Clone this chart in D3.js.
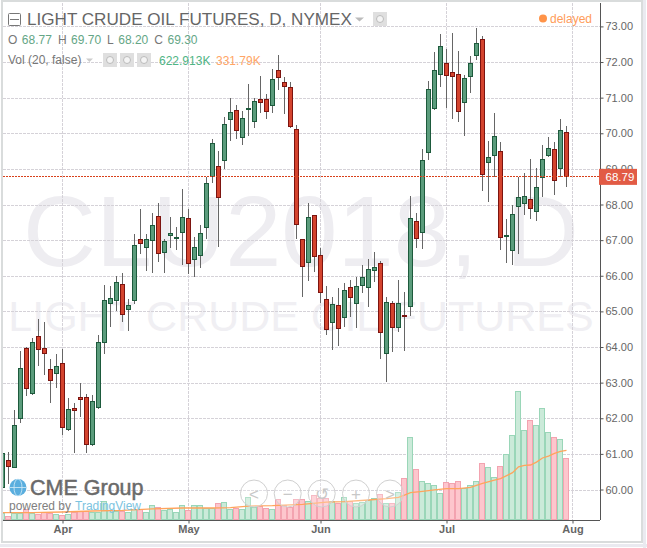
<!DOCTYPE html>
<html><head><meta charset="utf-8">
<script src="https://cdn.jsdelivr.net/npm/d3@7/dist/d3.min.js"></script>
<style>
html,body{margin:0;padding:0;background:#fff;overflow:hidden}
svg{display:block;font-family:"Liberation Sans",Arial,sans-serif}
</style></head><body>
<svg id="c" width="647" height="548"></svg>
<script>
const highs=[61.10,61.06,62.23,63.89,64.00,64.24,64.78,64.69,63.66,63.80,63.94,62.56,62.42,62.98,62.67,62.65,64.33,65.73,65.70,65.99,66.07,65.34,67.16,67.87,67.16,67.75,68.03,67.02,67.64,67.36,68.43,67.87,67.09,67.42,68.78,69.84,69.50,70.45,70.99,70.79,70.62,71.38,70.99,71.61,71.10,71.81,72.20,71.58,71.44,70.22,67.03,68.03,67.70,66.77,65.70,65.40,65.65,65.79,65.87,65.96,66.29,66.46,66.67,66.41,65.40,65.28,65.87,65.54,68.24,67.75,69.56,71.46,72.28,72.79,72.36,72.82,72.31,71.64,72.17,72.95,72.73,69.78,70.56,69.75,67.59,67.98,68.76,68.88,69.27,69.02,69.66,69.89,69.75,70.39,70.20];
const lows=[60.00,60.15,60.60,61.88,62.63,62.66,63.48,63.21,62.42,62.86,61.53,61.65,61.02,62.03,61.03,61.23,62.27,63.80,64.55,65.02,64.69,64.44,65.20,66.60,66.14,66.07,66.40,66.07,66.77,66.72,66.29,66.04,65.97,66.21,67.02,68.61,66.82,68.99,69.79,69.85,69.68,69.93,70.14,70.58,70.41,70.56,71.22,70.53,70.15,67.02,65.40,65.86,66.10,65.23,64.34,63.92,64.04,64.57,64.85,64.54,65.51,65.13,65.82,63.66,63.01,63.87,64.41,63.90,64.87,66.79,66.75,69.26,70.66,71.31,70.72,70.41,70.33,69.93,71.12,72.06,68.39,68.08,68.76,66.72,66.35,66.29,66.60,67.70,67.60,67.53,68.20,69.34,68.26,68.76,68.48];
const opens=[60.04,60.83,60.61,61.97,63.96,62.67,64.30,63.96,63.37,63.23,63.54,61.66,62.28,62.59,62.59,61.24,62.28,64.10,65.20,65.28,65.76,65.03,65.28,67.02,66.77,66.97,67.67,66.63,67.11,67.04,67.19,67.61,66.43,66.55,67.33,68.78,69.07,69.21,70.36,70.65,69.86,70.65,70.31,70.95,70.95,70.76,71.77,71.43,71.29,70.11,67.02,66.35,67.70,66.57,65.34,64.67,65.17,64.81,65.68,65.20,65.70,65.65,66.13,66.35,63.80,65.23,64.53,64.89,65.12,67.53,67.19,69.44,70.67,71.63,71.97,71.71,71.66,70.84,71.57,72.16,72.64,69.17,69.35,69.49,67.08,66.69,67.92,68.01,68.15,67.78,68.74,69.35,69.55,68.99,70.03];
const closes=[61.02,60.64,61.81,63.40,62.81,64.13,63.91,63.80,63.04,63.46,61.72,62.25,62.20,62.52,61.24,62.48,64.13,65.31,65.37,65.82,64.89,65.17,66.86,66.88,67.02,67.42,66.60,66.97,67.19,67.08,67.64,66.32,66.80,67.19,68.60,69.72,68.18,70.25,70.59,70.06,70.42,70.70,70.90,70.84,70.59,71.52,71.54,71.29,70.17,67.42,66.24,67.64,66.52,65.51,64.47,65.20,64.50,65.59,65.37,65.70,65.96,66.18,66.24,64.39,65.26,64.53,65.23,64.83,67.61,67.02,69.24,71.24,71.77,72.44,71.60,71.57,70.59,71.54,71.97,72.53,68.82,69.33,69.92,67.05,67.14,67.73,68.20,68.23,67.87,68.48,69.27,69.58,68.65,70.10,68.76];
const volumes=[58,31,58,65,99,65,51,75,65,48,41,48,75,86,86,75,75,188,92,82,86,68,99,99,68,140,127,92,99,68,140,92,140,140,113,113,161,174,99,116,99,229,120,133,109,99,202,144,127,209,202,181,246,212,212,181,161,229,185,161,178,195,212,256,161,161,274,417,838,510,386,366,345,263,376,366,386,315,352,386,571,530,428,540,667,858,1310,910,1012,961,1135,889,838,817,622];
const maDays=[0,5,10,15,20,25,30,35,38,41,45,50,54,57,61,64,66,67,68,70,72,74,76,78,80,82,83,85,86,87,88,89,90,91,92,93,94];
const maValues=[65,65,72,82,89,103,113,113,116,133,137,150,174,178,195,209,222,246,270,284,298,311,311,325,366,400,414,475,536,550,554,584,626,646,674,694,704];
const priceTicks=[60,61,62,63,64,65,66,67,68,69,70,71,72,73];
const monthDays=[10,31,53,74,95];
const monthLabels=["Apr","May","Jun","Jul","Aug"];
const lastPrice=68.79;
const ohlcLabels=[["O","68.77"],["H","69.70"],["L","68.20"],["C","69.30"]];

const svg=d3.select("#c");
const UP="#5b9c7c",UPB="#1d5a3c",DN="#d4442e",DNB="#7c1410";
const x=d3.scaleLinear().domain([0,95]).range([2.5,572.5]);
const y=d3.scaleLinear().domain([60,73]).range([489.5,26.4]);
const v=d3.scaleLinear().domain([0,1310]).range([519,391.3]);
const snap=p=>Math.round(p)+0.5;

// frame
svg.append("rect").attr("x",2).attr("y",1).attr("width",640).attr("height",541).attr("fill","none").attr("stroke","#d9dcdc").attr("stroke-width",2);
svg.append("rect").attr("x",643).attr("y",0).attr("width",3).attr("height",548).attr("fill","#eaeaf0");
svg.append("rect").attr("x",0).attr("y",544).attr("width",647).attr("height",3).attr("fill","#eaeaf0");

svg.append("clipPath").attr("id","plot").append("rect").attr("x",3).attr("y",3).attr("width",597).attr("height",517);

// watermark
svg.append("text").attr("x",301).attr("y",266).attr("text-anchor","middle").attr("font-size",101).attr("fill","#eeedf1").text("CLU2018, D");
svg.append("text").attr("x",301).attr("y",330.5).attr("text-anchor","middle").attr("font-size",43).attr("fill","#f0eff3").text("LIGHT CRUDE OIL FUTURES");

// grid
const g=svg.append("g").attr("fill","none").attr("stroke","#d5d2d8").attr("stroke-dasharray","3,1");
g.selectAll(".h").data(priceTicks).join("line").attr("x1",3).attr("x2",600).attr("y1",d=>snap(y(d))).attr("y2",d=>snap(y(d)));
g.selectAll(".v").data(monthDays).join("line").attr("x1",d=>snap(x(d)-.5)).attr("x2",d=>snap(x(d)-.5)).attr("y1",3).attr("y2",520);

// volume
const plot=svg.append("g").attr("clip-path","url(#plot)");
plot.selectAll(".vol").data(volumes).join("rect")
  .attr("x",(d,i)=>x(i)-3).attr("width",5)
  .attr("y",d=>Math.round(v(d))+.5).attr("height",d=>519-Math.round(v(d)))
  .attr("fill",(d,i)=>closes[i]>=opens[i]?"#cbead9":"#fdc6cd")
  .attr("stroke",(d,i)=>closes[i]>=opens[i]?"#9ad6b8":"#f3a3b0");
plot.append("path").datum(maDays.map((d,i)=>[d,maValues[i]]))
  .attr("fill","none").attr("stroke","#ffa45c").attr("stroke-width",1.3)
  .attr("d",d3.line().x(d=>x(d[0])).y(d=>v(d[1])));

// candles
plot.selectAll(".wick").data(highs).join("line")
  .attr("x1",(d,i)=>x(i)).attr("x2",(d,i)=>x(i))
  .attr("y1",d=>Math.round(y(d))).attr("y2",(d,i)=>Math.round(y(lows[i])))
  .attr("stroke","#666").attr("stroke-width",1);
plot.selectAll(".body").data(opens).join("rect")
  .attr("x",(d,i)=>x(i)-2).attr("width",4)
  .attr("y",(d,i)=>Math.round(y(Math.max(d,closes[i])))+.5)
  .attr("height",(d,i)=>Math.max(1,Math.round(y(Math.min(d,closes[i])))-Math.round(y(Math.max(d,closes[i])))-1))
  .attr("fill",(d,i)=>closes[i]>=d?UP:DN)
  .attr("stroke",(d,i)=>closes[i]>=d?UPB:DNB);

// axes
const ax=svg.append("g").attr("transform","translate(600.5,0)").attr("font-family","inherit")
  .call(d3.axisRight(y).tickValues(priceTicks).tickFormat(d3.format(".2f")).tickSize(3).tickPadding(2));
const bx=svg.append("g").attr("transform","translate(0,520.5)")
  .call(d3.axisBottom(x).tickValues(monthDays).tickFormat((d,i)=>monthLabels[i]).tickSize(3).tickPadding(2));
ax.selectAll("text").attr("font-size",11).attr("font-family","Liberation Sans").attr("fill","#666");
ax.selectAll("line").attr("stroke","#555");
ax.select(".domain").attr("stroke","#555").attr("d","M0,3V520");
bx.selectAll("text").attr("font-size",11).attr("font-weight","bold").attr("font-family","Liberation Sans").attr("fill","#666");
bx.selectAll("line").attr("stroke","#555");
bx.select(".domain").attr("stroke","#555").attr("d","M3,0H600");

// last price
svg.append("line").attr("x1",3).attr("x2",600).attr("y1",snap(y(lastPrice))).attr("y2",snap(y(lastPrice)))
  .attr("stroke","#d8401a").attr("stroke-dasharray","2,1");
svg.append("rect").attr("x",599).attr("y",y(lastPrice)-7.5).attr("width",38).attr("height",16).attr("fill","#e25b45");
svg.append("text").attr("x",605.5).attr("y",y(lastPrice)+4.5).attr("font-size",11.5).attr("fill","#fff").text(d3.format(".2f")(lastPrice));

// header
const hdr=svg.append("g");
hdr.append("rect").attr("x",8.5).attr("y",13.5).attr("width",12).attr("height",12).attr("rx",1).attr("fill","#fff").attr("stroke","#777");
hdr.append("line").attr("x1",10).attr("x2",19).attr("y1",19.5).attr("y2",19.5).attr("stroke","#777");
hdr.append("text").attr("x",27).attr("y",25).attr("font-size",17.1).attr("fill","#666").text("LIGHT CRUDE OIL FUTURES, D, NYMEX");
hdr.append("path").attr("d","M355,17.5h9l-4.5,4z").attr("fill","#bbb");
const ohlc=hdr.append("text").attr("y",44).attr("font-size",12).attr("x",8);
ohlcLabels.forEach(([a,b],i)=>{
  ohlc.append("tspan").attr("fill","#777").attr("dx",i?6:0).text(a);
  ohlc.append("tspan").attr("fill","#64a686").attr("dx",4.5).text(b);
});
hdr.append("text").attr("x",8).attr("y",64).attr("font-size",12).attr("fill","#777").text("Vol (20, false)");
hdr.append("path").attr("d","M86,58.5h7l-3.5,3.5z").attr("fill","#ccc");
hdr.append("text").attr("x",159).attr("y",65).attr("font-size",12).attr("fill","#4fb585").text("622.913K");
hdr.append("text").attr("x",216).attr("y",65).attr("font-size",12).attr("fill","#ffa566").text("331.79K");
const iconX=[103,120,137,373];
hdr.selectAll(".ic").data(iconX).join("rect").attr("x",d=>d).attr("y",(d,i)=>i==3?12:53).attr("width",14).attr("height",14).attr("fill","#dfdfdf");
hdr.selectAll(".ici").data(iconX).join("circle").attr("cx",d=>d+7).attr("cy",(d,i)=>i==3?19:60).attr("r",3.5).attr("fill","#f4f4f4").attr("stroke","#bbb");
hdr.append("circle").attr("cx",543).attr("cy",18.5).attr("r",4).attr("fill","#ff9348");
hdr.append("text").attr("x",550).attr("y",22.5).attr("font-size",12).attr("fill","#ff9c5a").text("delayed");

// logo
const logo=svg.append("g");
logo.append("circle").attr("cx",18).attr("cy",487.5).attr("r",8.5).attr("fill","#5aaede");
logo.append("ellipse").attr("cx",18).attr("cy",487.5).attr("rx",4).attr("ry",8.5).attr("fill","none").attr("stroke","#d6ecf7").attr("stroke-width",.8);
logo.append("line").attr("x1",9.5).attr("x2",26.5).attr("y1",487.5).attr("y2",487.5).attr("stroke","#d6ecf7").attr("stroke-width",.8);
logo.append("text").attr("x",30).attr("y",495).attr("font-size",21.5).attr("fill","#6a6a6a").attr("stroke","#6a6a6a").attr("stroke-width",.5).text("CME Group");
logo.append("text").attr("x",9).attr("y",510).attr("font-size",12).attr("fill","#808080").text("powered by");
logo.append("text").attr("x",75).attr("y",510).attr("font-size",12).attr("fill","#7cc3e0").text("TradingView");

// zoom buttons
const btnX=[254,287.7,321.7,356,390], btnG=["<","−","↺","+",">"];
const btn=svg.append("g");
btn.selectAll("circle").data(btnX).join("circle").attr("cx",d=>d).attr("cy",493.5).attr("r",13.5)
  .attr("fill","#fff").attr("fill-opacity",.25).attr("stroke","#d0d0d0");
btn.selectAll("text").data(btnG).join("text").attr("x",(d,i)=>btnX[i]).attr("y",499.5).attr("text-anchor","middle")
  .attr("font-size",17).attr("fill","#c8c8c8").text(d=>d);
</script>
</body></html>
